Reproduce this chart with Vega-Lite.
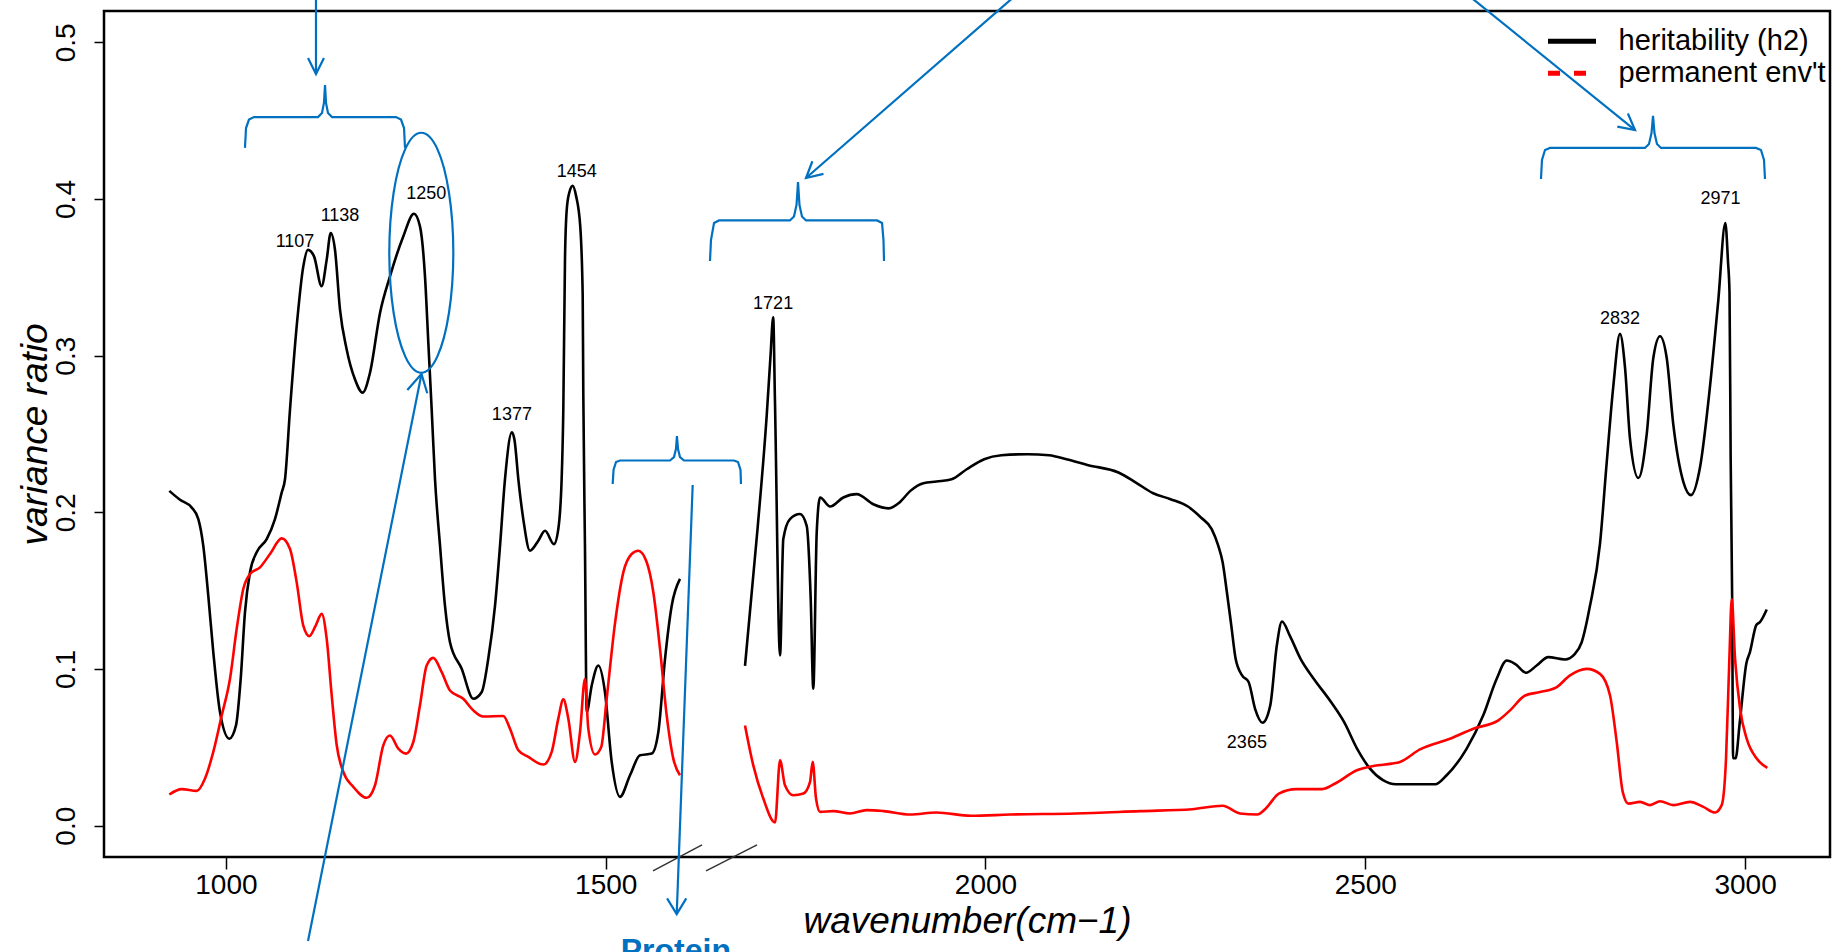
{
  "$schema": "https://vega.github.io/schema/vega-lite/v6.json",
  "width": 1726,
  "height": 846,
  "autosize": {"type": "none"},
  "padding": {"left": 104, "top": 11, "right": 15, "bottom": 95},
  "background": "white",
  "config": {
    "font": "Liberation Sans",
    "view": {"stroke": "#000", "strokeWidth": 2.5}
  },
  "datasets": {
    "h2": [
      {"seg":1,"wn":925.5,"v":0.2137},{"seg":1,"wn":939.6,"v":0.208},{"seg":1,"wn":955,"v":0.203},{"seg":1,"wn":963.7,"v":0.1957},{"seg":1,"wn":970.2,"v":0.1787},{"seg":1,"wn":976.8,"v":0.1468},{"seg":1,"wn":983.4,"v":0.1108},{"seg":1,"wn":992.2,"v":0.0725},{"seg":1,"wn":1004.5,"v":0.0555},{"seg":1,"wn":1013.3,"v":0.064},{"seg":1,"wn":1019.5,"v":0.0938},{"seg":1,"wn":1025.1,"v":0.1362},{"seg":1,"wn":1031.7,"v":0.1617},{"seg":1,"wn":1040.5,"v":0.1745},{"seg":1,"wn":1053.7,"v":0.1829},{"seg":1,"wn":1064.6,"v":0.1957},{"seg":1,"wn":1073.5,"v":0.2127},{"seg":1,"wn":1077.8,"v":0.2211},{"seg":1,"wn":1084.4,"v":0.2657},{"seg":1,"wn":1093.2,"v":0.3188},{"seg":1,"wn":1101.9,"v":0.357},{"seg":1,"wn":1108,"v":0.3675},{"seg":1,"wn":1116,"v":0.3634},{"seg":1,"wn":1126,"v":0.3443},{"seg":1,"wn":1132.7,"v":0.3613},{"seg":1,"wn":1138,"v":0.3783},{"seg":1,"wn":1143.6,"v":0.3676},{"seg":1,"wn":1150.2,"v":0.3294},{"seg":1,"wn":1159,"v":0.304},{"seg":1,"wn":1170,"v":0.2848},{"seg":1,"wn":1180,"v":0.2764},{"seg":1,"wn":1189.7,"v":0.2891},{"seg":1,"wn":1202.9,"v":0.3273},{"seg":1,"wn":1216,"v":0.3506},{"seg":1,"wn":1233.5,"v":0.3761},{"seg":1,"wn":1247.6,"v":0.3906},{"seg":1,"wn":1255.5,"v":0.3825},{"seg":1,"wn":1262.1,"v":0.3506},{"seg":1,"wn":1266.5,"v":0.3082},{"seg":1,"wn":1270.9,"v":0.2657},{"seg":1,"wn":1275.3,"v":0.2211},{"seg":1,"wn":1281.9,"v":0.1787},{"seg":1,"wn":1288.4,"v":0.1404},{"seg":1,"wn":1295,"v":0.1171},{"seg":1,"wn":1310.4,"v":0.1001},{"seg":1,"wn":1325.7,"v":0.081},{"seg":1,"wn":1336.8,"v":0.0853},{"seg":1,"wn":1345.4,"v":0.1065},{"seg":1,"wn":1354.3,"v":0.1404},{"seg":1,"wn":1360.9,"v":0.1787},{"seg":1,"wn":1367.4,"v":0.2211},{"seg":1,"wn":1376.5,"v":0.2511},{"seg":1,"wn":1380,"v":0.246},{"seg":1,"wn":1385,"v":0.2211},{"seg":1,"wn":1391.5,"v":0.1957},{"seg":1,"wn":1400.3,"v":0.1755},{"seg":1,"wn":1411.3,"v":0.1819},{"seg":1,"wn":1420.1,"v":0.1882},{"seg":1,"wn":1431.9,"v":0.1797},{"seg":1,"wn":1437.6,"v":0.1893},{"seg":1,"wn":1442,"v":0.2211},{"seg":1,"wn":1444.2,"v":0.2657},{"seg":1,"wn":1446.4,"v":0.3613},{"seg":1,"wn":1448.6,"v":0.3925},{"seg":1,"wn":1452,"v":0.404},{"seg":1,"wn":1456.6,"v":0.4084},{"seg":1,"wn":1461,"v":0.402},{"seg":1,"wn":1466.5,"v":0.3825},{"seg":1,"wn":1469.7,"v":0.339},{"seg":1,"wn":1470.5,"v":0.2764},{"seg":1,"wn":1472.7,"v":0.1787},{"seg":1,"wn":1475,"v":0.0725},{"seg":1,"wn":1481.6,"v":0.0895},{"seg":1,"wn":1490.3,"v":0.1022},{"seg":1,"wn":1499,"v":0.0853},{"seg":1,"wn":1507.9,"v":0.0407},{"seg":1,"wn":1518.8,"v":0.0184},{"seg":1,"wn":1532,"v":0.0322},{"seg":1,"wn":1545.2,"v":0.0449},{"seg":1,"wn":1560.6,"v":0.046},{"seg":1,"wn":1569.3,"v":0.0598},{"seg":1,"wn":1578.1,"v":0.1065},{"seg":1,"wn":1586.9,"v":0.1404},{"seg":1,"wn":1597.8,"v":0.1575},
      {"seg":2,"wn":1683.4,"v":0.102},{"seg":2,"wn":1700,"v":0.19},{"seg":2,"wn":1712,"v":0.262},{"seg":2,"wn":1717,"v":0.3},{"seg":2,"wn":1720.5,"v":0.3245},{"seg":2,"wn":1722.8,"v":0.272},{"seg":2,"wn":1729.5,"v":0.1086},{"seg":2,"wn":1733.8,"v":0.183},{"seg":2,"wn":1742.6,"v":0.1957},{"seg":2,"wn":1755.8,"v":0.1989},{"seg":2,"wn":1764.6,"v":0.1914},{"seg":2,"wn":1769.9,"v":0.1447},{"seg":2,"wn":1773.3,"v":0.0874},{"seg":2,"wn":1777.8,"v":0.1872},{"seg":2,"wn":1782.2,"v":0.2095},{"seg":2,"wn":1795.4,"v":0.2037},{"seg":2,"wn":1812.8,"v":0.2095},{"seg":2,"wn":1830.4,"v":0.2116},{"seg":2,"wn":1852.3,"v":0.2052},{"seg":2,"wn":1872.5,"v":0.2025},{"seg":2,"wn":1886.8,"v":0.2063},{"seg":2,"wn":1901.1,"v":0.2137},{"seg":2,"wn":1918.2,"v":0.2186},{"seg":2,"wn":1935.4,"v":0.2197},{"seg":2,"wn":1955.4,"v":0.2211},{"seg":2,"wn":1975.3,"v":0.2275},{"seg":2,"wn":1998.2,"v":0.2339},{"seg":2,"wn":2021,"v":0.2364},{"seg":2,"wn":2055.2,"v":0.2371},{"seg":2,"wn":2083.7,"v":0.2364},{"seg":2,"wn":2106.6,"v":0.2339},{"seg":2,"wn":2135.2,"v":0.2301},{"seg":2,"wn":2175.1,"v":0.2254},{"seg":2,"wn":2198,"v":0.219},{"seg":2,"wn":2220.8,"v":0.2122},{"seg":2,"wn":2243.6,"v":0.2084},{"seg":2,"wn":2266.5,"v":0.2037},{"seg":2,"wn":2283.6,"v":0.1967},{"seg":2,"wn":2297.8,"v":0.1893},{"seg":2,"wn":2306.4,"v":0.1787},{"seg":2,"wn":2312.2,"v":0.1681},{"seg":2,"wn":2317.8,"v":0.149},{"seg":2,"wn":2323.6,"v":0.1277},{"seg":2,"wn":2329.3,"v":0.1065},{"seg":2,"wn":2337.8,"v":0.0959},{"seg":2,"wn":2346.4,"v":0.0917},{"seg":2,"wn":2354.9,"v":0.0746},{"seg":2,"wn":2364.7,"v":0.0657},{"seg":2,"wn":2374.9,"v":0.0768},{"seg":2,"wn":2383.5,"v":0.115},{"seg":2,"wn":2390.3,"v":0.1303},{"seg":2,"wn":2400.6,"v":0.1213},{"seg":2,"wn":2414.8,"v":0.1065},{"seg":2,"wn":2432.1,"v":0.0938},{"seg":2,"wn":2454.9,"v":0.0789},{"seg":2,"wn":2472,"v":0.0662},{"seg":2,"wn":2489.1,"v":0.0492},{"seg":2,"wn":2506.2,"v":0.0364},{"seg":2,"wn":2523.3,"v":0.029},{"seg":2,"wn":2540.4,"v":0.0264},{"seg":2,"wn":2591.9,"v":0.0264},{"seg":2,"wn":2607.1,"v":0.0322},{"seg":2,"wn":2633.5,"v":0.0492},{"seg":2,"wn":2655.3,"v":0.0704},{"seg":2,"wn":2673,"v":0.0938},{"seg":2,"wn":2686.2,"v":0.1054},{"seg":2,"wn":2697.1,"v":0.1033},{"seg":2,"wn":2711.6,"v":0.0976},{"seg":2,"wn":2725.6,"v":0.1022},{"seg":2,"wn":2740.9,"v":0.1076},{"seg":2,"wn":2762.9,"v":0.1061},{"seg":2,"wn":2776,"v":0.1097},{"seg":2,"wn":2784.9,"v":0.1171},{"seg":2,"wn":2795.8,"v":0.1403},{"seg":2,"wn":2809,"v":0.18},{"seg":2,"wn":2817.8,"v":0.2317},{"seg":2,"wn":2826.5,"v":0.2804},{"seg":2,"wn":2835.3,"v":0.3139},{"seg":2,"wn":2841.9,"v":0.2926},{"seg":2,"wn":2848.5,"v":0.2469},{"seg":2,"wn":2859.5,"v":0.2219},{"seg":2,"wn":2870.5,"v":0.2499},{"seg":2,"wn":2879.2,"v":0.2986},{"seg":2,"wn":2888,"v":0.3124},{"seg":2,"wn":2896.8,"v":0.2986},{"seg":2,"wn":2905.5,"v":0.256},{"seg":2,"wn":2918.7,"v":0.2195},{"seg":2,"wn":2928.8,"v":0.211},{"seg":2,"wn":2940.6,"v":0.2286},{"seg":2,"wn":2953.8,"v":0.2804},{"seg":2,"wn":2964.7,"v":0.3352},{"seg":2,"wn":2974,"v":0.3846},{"seg":2,"wn":2977.5,"v":0.36},{"seg":2,"wn":2979.5,"v":0.34},{"seg":2,"wn":2981,"v":0.235},{"seg":2,"wn":2983,"v":0.143},{"seg":2,"wn":2984.2,"v":0.043},{"seg":2,"wn":2987.5,"v":0.043},{"seg":2,"wn":2993,"v":0.066},{"seg":2,"wn":3001.7,"v":0.1037},{"seg":2,"wn":3006.4,"v":0.1108},{"seg":2,"wn":3014.8,"v":0.1281},{"seg":2,"wn":3019.5,"v":0.1299},{"seg":2,"wn":3028.5,"v":0.138}
    ],
    "pe": [
      {"seg":1,"wn":925.5,"v":0.0199},{"seg":1,"wn":941.8,"v":0.0233},{"seg":1,"wn":961.6,"v":0.0222},{"seg":1,"wn":972.5,"v":0.0301},{"seg":1,"wn":983.4,"v":0.0471},{"seg":1,"wn":994.5,"v":0.0704},{"seg":1,"wn":1005.4,"v":0.0938},{"seg":1,"wn":1014.2,"v":0.1256},{"seg":1,"wn":1022.9,"v":0.1511},{"seg":1,"wn":1031.7,"v":0.1606},{"seg":1,"wn":1044.9,"v":0.1649},{"seg":1,"wn":1058.1,"v":0.1734},{"seg":1,"wn":1073.5,"v":0.1834},{"seg":1,"wn":1084.4,"v":0.1766},{"seg":1,"wn":1093.2,"v":0.1553},{"seg":1,"wn":1101.9,"v":0.1277},{"seg":1,"wn":1109.8,"v":0.121},{"seg":1,"wn":1118.2,"v":0.1277},{"seg":1,"wn":1126.1,"v":0.1352},{"seg":1,"wn":1132.7,"v":0.1192},{"seg":1,"wn":1139.3,"v":0.0831},{"seg":1,"wn":1145.9,"v":0.0513},{"seg":1,"wn":1154.6,"v":0.0343},{"seg":1,"wn":1167.7,"v":0.0248},{"seg":1,"wn":1185.4,"v":0.0178},{"seg":1,"wn":1196.3,"v":0.0258},{"seg":1,"wn":1207.2,"v":0.0513},{"seg":1,"wn":1216,"v":0.0576},{"seg":1,"wn":1227,"v":0.0492},{"seg":1,"wn":1237.1,"v":0.046},{"seg":1,"wn":1246.7,"v":0.0534},{"seg":1,"wn":1255.5,"v":0.0768},{"seg":1,"wn":1264.3,"v":0.1022},{"seg":1,"wn":1273,"v":0.1071},{"seg":1,"wn":1284.1,"v":0.098},{"seg":1,"wn":1295,"v":0.0863},{"seg":1,"wn":1312.5,"v":0.081},{"seg":1,"wn":1325.7,"v":0.0736},{"seg":1,"wn":1338.9,"v":0.0697},{"seg":1,"wn":1365.2,"v":0.07},{"seg":1,"wn":1374,"v":0.0619},{"seg":1,"wn":1385,"v":0.0481},{"seg":1,"wn":1398.1,"v":0.0439},{"seg":1,"wn":1417.9,"v":0.039},{"seg":1,"wn":1428.9,"v":0.0471},{"seg":1,"wn":1437.6,"v":0.0683},{"seg":1,"wn":1444.2,"v":0.0806},{"seg":1,"wn":1450.8,"v":0.0683},{"seg":1,"wn":1459.6,"v":0.0407},{"seg":1,"wn":1466.2,"v":0.0598},{"seg":1,"wn":1472.7,"v":0.0938},{"seg":1,"wn":1477.1,"v":0.0619},{"seg":1,"wn":1485.9,"v":0.0454},{"seg":1,"wn":1494,"v":0.05},{"seg":1,"wn":1501.3,"v":0.081},{"seg":1,"wn":1512.2,"v":0.129},{"seg":1,"wn":1523.2,"v":0.1617},{"seg":1,"wn":1534.2,"v":0.1734},{"seg":1,"wn":1542.9,"v":0.1755},{"seg":1,"wn":1554,"v":0.1681},{"seg":1,"wn":1562.7,"v":0.149},{"seg":1,"wn":1571.5,"v":0.1129},{"seg":1,"wn":1580.3,"v":0.0704},{"seg":1,"wn":1589,"v":0.0428},{"seg":1,"wn":1597.8,"v":0.0322},
      {"seg":2,"wn":1683.4,"v":0.064},{"seg":2,"wn":1694.3,"v":0.0385},{"seg":2,"wn":1707.5,"v":0.0173},{"seg":2,"wn":1722.9,"v":0.002},{"seg":2,"wn":1729.5,"v":0.0417},{"seg":2,"wn":1736,"v":0.0258},{"seg":2,"wn":1747,"v":0.0194},{"seg":2,"wn":1760.2,"v":0.0205},{"seg":2,"wn":1769,"v":0.028},{"seg":2,"wn":1772.5,"v":0.0407},{"seg":2,"wn":1776.9,"v":0.0173},{"seg":2,"wn":1782.2,"v":0.0088},{"seg":2,"wn":1799.6,"v":0.0093},{"seg":2,"wn":1821.6,"v":0.0078},{"seg":2,"wn":1843.6,"v":0.0099},{"seg":2,"wn":1865.5,"v":0.0093},{"seg":2,"wn":1901.1,"v":0.0071},{"seg":2,"wn":1935.4,"v":0.0084},{"seg":2,"wn":1981,"v":0.0063},{"seg":2,"wn":2032.4,"v":0.0071},{"seg":2,"wn":2118,"v":0.0078},{"seg":2,"wn":2203.6,"v":0.0093},{"seg":2,"wn":2272.1,"v":0.0105},{"seg":2,"wn":2312.2,"v":0.0127},{"seg":2,"wn":2335,"v":0.0078},{"seg":2,"wn":2357.8,"v":0.0071},{"seg":2,"wn":2369.1,"v":0.011},{"seg":2,"wn":2386.2,"v":0.0205},{"seg":2,"wn":2409.1,"v":0.0233},{"seg":2,"wn":2443.3,"v":0.0233},{"seg":2,"wn":2460.4,"v":0.0269},{"seg":2,"wn":2489,"v":0.0354},{"seg":2,"wn":2511.9,"v":0.0382},{"seg":2,"wn":2534.8,"v":0.0396},{"seg":2,"wn":2545.7,"v":0.0407},{"seg":2,"wn":2572,"v":0.0487},{"seg":2,"wn":2611.5,"v":0.0555},{"seg":2,"wn":2642.3,"v":0.0619},{"seg":2,"wn":2675.2,"v":0.0672},{"seg":2,"wn":2690.6,"v":0.0736},{"seg":2,"wn":2710.4,"v":0.0831},{"seg":2,"wn":2730.1,"v":0.0853},{"seg":2,"wn":2752.1,"v":0.0885},{"seg":2,"wn":2769.5,"v":0.0959},{"seg":2,"wn":2791.6,"v":0.1001},{"seg":2,"wn":2809,"v":0.0969},{"seg":2,"wn":2822.2,"v":0.0831},{"seg":2,"wn":2831,"v":0.0534},{"seg":2,"wn":2838.9,"v":0.0216},{"seg":2,"wn":2846.4,"v":0.0141},{"seg":2,"wn":2861.7,"v":0.0152},{"seg":2,"wn":2874.9,"v":0.0131},{"seg":2,"wn":2888,"v":0.0156},{"seg":2,"wn":2905.5,"v":0.0131},{"seg":2,"wn":2927.5,"v":0.0152},{"seg":2,"wn":2945,"v":0.012},{"seg":2,"wn":2960.4,"v":0.0084},{"seg":2,"wn":2969.2,"v":0.0131},{"seg":2,"wn":2974.9,"v":0.0428},{"seg":2,"wn":2979.3,"v":0.1065},{"seg":2,"wn":2982.4,"v":0.1447},{"seg":2,"wn":2986.8,"v":0.1065},{"seg":2,"wn":2993.4,"v":0.0746},{"seg":2,"wn":3002.1,"v":0.0555},{"seg":2,"wn":3015.3,"v":0.0428},{"seg":2,"wn":3029.3,"v":0.0369}
    ],
    "peaks": [
      {"label":"1107","wn":1091,"v":0.3727},{"label":"1138","wn":1150.2,"v":0.3891},{"label":"1250","wn":1263.8,"v":0.403},{"label":"1377","wn":1376.5,"v":0.2619},{"label":"1454","wn":1461.8,"v":0.4174},{"label":"1721","wn":1720.4,"v":0.3332},{"label":"2365","wn":2344.1,"v":0.0526},{"label":"2832","wn":2835.3,"v":0.3233},{"label":"2971","wn":2967.6,"v":0.3997}
    ],
    "breaks": [
      {"wn":1562.3,"v":-0.0289,"wn2":1626.8,"v2":-0.0123},{"wn":1632.1,"v":-0.0289,"wn2":1699.2,"v2":-0.0123}
    ],
    "anno": [
      {"id":"a1","o":1,"wn":1118.6,"v":0.5302},{"id":"a1","o":2,"wn":1118.6,"v":0.4798},
      {"id":"a1h","o":1,"wn":1108.1,"v":0.49},{"id":"a1h","o":2,"wn":1118.6,"v":0.4798},{"id":"a1h","o":3,"wn":1129.1,"v":0.49},
      {"id":"b1","o":1,"wn":1025.1,"v":0.4326},{"id":"b1","o":2,"wn":1026.5,"v":0.4453},{"id":"b1","o":3,"wn":1030.4,"v":0.4507},{"id":"b1","o":4,"wn":1037.0,"v":0.4523},{"id":"b1","o":5,"wn":1121.3,"v":0.4523},{"id":"b1","o":6,"wn":1126.5,"v":0.4549},{"id":"b1","o":7,"wn":1129.1,"v":0.4613},{"id":"b1","o":8,"wn":1130.5,"v":0.4728},{"id":"b1","o":9,"wn":1131.8,"v":0.4613},{"id":"b1","o":10,"wn":1134.4,"v":0.4549},{"id":"b1","o":11,"wn":1139.7,"v":0.4523},{"id":"b1","o":12,"wn":1223.9,"v":0.4523},{"id":"b1","o":13,"wn":1230.5,"v":0.4507},{"id":"b1","o":14,"wn":1234.5,"v":0.4453},{"id":"b1","o":15,"wn":1235.8,"v":0.4326},
      {"id":"c","o":1,"wn":1108.1,"v":-0.0736},{"id":"c","o":2,"wn":1257.5,"v":0.2883},
      {"id":"ch","o":1,"wn":1238.8,"v":0.2781},{"id":"ch","o":2,"wn":1257.5,"v":0.2883},{"id":"ch","o":3,"wn":1265.1,"v":0.276},
      {"id":"d","o":1,"wn":2040.2,"v":0.5302},{"id":"d","o":2,"wn":1763.7,"v":0.4134},
      {"id":"dh","o":1,"wn":1786.7,"v":0.416},{"id":"dh","o":2,"wn":1763.7,"v":0.4134},{"id":"dh","o":3,"wn":1772.1,"v":0.4241},
      {"id":"b2","o":1,"wn":1637.3,"v":0.3604},{"id":"b2","o":2,"wn":1638.6,"v":0.3738},{"id":"b2","o":3,"wn":1642.6,"v":0.3847},{"id":"b2","o":4,"wn":1649.2,"v":0.3863},{"id":"b2","o":5,"wn":1742.6,"v":0.3863},{"id":"b2","o":6,"wn":1747.9,"v":0.3888},{"id":"b2","o":7,"wn":1751.2,"v":0.3962},{"id":"b2","o":8,"wn":1753.2,"v":0.4108},{"id":"b2","o":9,"wn":1755.1,"v":0.3962},{"id":"b2","o":10,"wn":1758.4,"v":0.3888},{"id":"b2","o":11,"wn":1763.7,"v":0.3863},{"id":"b2","o":12,"wn":1857.2,"v":0.3863},{"id":"b2","o":13,"wn":1863.8,"v":0.3847},{"id":"b2","o":14,"wn":1865.7,"v":0.3738},{"id":"b2","o":15,"wn":1866.4,"v":0.3604},
      {"id":"b3","o":1,"wn":1509.2,"v":0.2181},{"id":"b3","o":2,"wn":1510.3,"v":0.227},{"id":"b3","o":3,"wn":1513.6,"v":0.2321},{"id":"b3","o":4,"wn":1518.8,"v":0.2331},{"id":"b3","o":5,"wn":1584.6,"v":0.2331},{"id":"b3","o":6,"wn":1589.9,"v":0.2353},{"id":"b3","o":7,"wn":1592.5,"v":0.2404},{"id":"b3","o":8,"wn":1593.8,"v":0.2487},{"id":"b3","o":9,"wn":1595.2,"v":0.2404},{"id":"b3","o":10,"wn":1597.8,"v":0.2353},{"id":"b3","o":11,"wn":1603.1,"v":0.2331},{"id":"b3","o":12,"wn":1668.9,"v":0.2331},{"id":"b3","o":13,"wn":1674.2,"v":0.2321},{"id":"b3","o":14,"wn":1677.5,"v":0.227},{"id":"b3","o":15,"wn":1678.1,"v":0.2181},
      {"id":"f","o":1,"wn":1614.5,"v":0.2174},{"id":"f","o":2,"wn":1593.5,"v":-0.0564},
      {"id":"fh","o":1,"wn":1580.8,"v":-0.0464},{"id":"fh","o":2,"wn":1593.5,"v":-0.0564},{"id":"fh","o":3,"wn":1606.1,"v":-0.0464},
      {"id":"g","o":1,"wn":2635.2,"v":0.5302},{"id":"g","o":2,"wn":2855.1,"v":0.444},
      {"id":"gh","o":1,"wn":2845.7,"v":0.4546},{"id":"gh","o":2,"wn":2855.1,"v":0.444},{"id":"gh","o":3,"wn":2831.8,"v":0.4462},
      {"id":"b4","o":1,"wn":2731.3,"v":0.4128},{"id":"b4","o":2,"wn":2732.6,"v":0.4249},{"id":"b4","o":3,"wn":2736.6,"v":0.4313},{"id":"b4","o":4,"wn":2743.2,"v":0.4326},{"id":"b4","o":5,"wn":2868.2,"v":0.4326},{"id":"b4","o":6,"wn":2873.5,"v":0.4351},{"id":"b4","o":7,"wn":2876.8,"v":0.4421},{"id":"b4","o":8,"wn":2878.8,"v":0.453},{"id":"b4","o":9,"wn":2880.7,"v":0.4421},{"id":"b4","o":10,"wn":2884.0,"v":0.4351},{"id":"b4","o":11,"wn":2889.3,"v":0.4326},{"id":"b4","o":12,"wn":3014.3,"v":0.4326},{"id":"b4","o":13,"wn":3020.9,"v":0.4313},{"id":"b4","o":14,"wn":3024.9,"v":0.4249},{"id":"b4","o":15,"wn":3026.2,"v":0.4128}
    ],
    "ellipse": [
      {"o":1,"wn":1299.4,"v":0.3657},{"o":2,"wn":1293.7,"v":0.404},{"o":3,"wn":1278.3,"v":0.432},{"o":4,"wn":1257.2,"v":0.4423},{"o":5,"wn":1236.2,"v":0.432},{"o":6,"wn":1220.8,"v":0.404},{"o":7,"wn":1215.1,"v":0.3657},{"o":8,"wn":1220.8,"v":0.3274},{"o":9,"wn":1236.2,"v":0.2994},{"o":10,"wn":1257.2,"v":0.2891},{"o":11,"wn":1278.3,"v":0.2994},{"o":12,"wn":1293.7,"v":0.3274}
    ],
    "protein": [
      {"t":"Protein","wn":1592.4,"v":-0.0864}
    ]
  },
  "encoding": {
    "x": {
      "field": "wn", "type": "quantitative",
      "scale": {"domain": [839.52, 3111.78], "nice": false, "zero": false},
      "axis": {
        "values": [1000, 1500, 2000, 2500, 3000], "format": "d", "grid": false, "domain": false,
        "tickSize": 12, "tickWidth": 1.5, "tickColor": "#000",
        "labelFontSize": 28, "labelColor": "#000", "labelPadding": 2, "labelBaseline": "top", "labelFlush": false, "labelOverlap": false,
        "title": "wavenumber(cm−1)", "titleFontSize": 37, "titleFontStyle": "italic", "titleFontWeight": "normal", "titleColor": "#000",
        "titleX": 863, "titleY": 75, "titleBaseline": "alphabetic", "titleAlign": "center"
      }
    },
    "y": {
      "field": "v", "type": "quantitative",
      "scale": {"domain": [-0.02, 0.52], "nice": false, "zero": false},
      "axis": {
        "values": [0, 0.1, 0.2, 0.3, 0.4, 0.5], "format": ".1f", "grid": false, "domain": false,
        "tickSize": 10, "tickWidth": 1.5, "tickColor": "#000",
        "labelFontSize": 28, "labelColor": "#000", "labelAngle": 270, "labelAlign": "center", "labelBaseline": "bottom", "labelPadding": 14, "labelFlush": false, "labelOverlap": false,
        "title": "variance ratio", "titleFontSize": 37, "titleFontStyle": "italic", "titleFontWeight": "normal", "titleColor": "#000",
        "titleAngle": 270, "titleX": -58, "titleY": 423, "titleBaseline": "alphabetic", "titleAlign": "center"
      }
    }
  },
  "layer": [
    {
      "data": {"name": "h2"},
      "mark": {"type": "line", "interpolate": "monotone", "strokeWidth": 2.6},
      "encoding": {
        "detail": {"field": "seg", "type": "nominal"},
        "color": {
          "datum": "heritability (h2)", "type": "nominal",
          "scale": {"domain": ["heritability (h2)", "permanent env't"], "range": ["#000000", "#ff0000"]},
          "legend": {
            "orient": "none", "legendX": 1441.5, "legendY": 14.2, "title": null,
            "symbolType": "stroke", "symbolSize": 900, "symbolStrokeWidth": 5, "symbolOffset": 0,
            "labelOffset": 20, "labelFontSize": 29, "labelColor": "#000", "labelLimit": 0, "padding": 0, "rowPadding": 0, "clipHeight": 32,
            "encode": {"symbols": {"update": {"size": {"value": 2304}, "strokeDash": {"signal": "datum.value === \"permanent env't\" ? [12, 14] : [1, 0]"}}}}
          }
        }
      }
    },
    {
      "data": {"name": "pe"},
      "mark": {"type": "line", "interpolate": "monotone", "strokeWidth": 2.6},
      "encoding": {
        "detail": {"field": "seg", "type": "nominal"},
        "color": {"datum": "permanent env't", "type": "nominal"}
      }
    },
    {
      "data": {"name": "peaks"},
      "mark": {"type": "text", "fontSize": 18, "color": "#000", "baseline": "middle", "align": "center"},
      "encoding": {"text": {"field": "label", "type": "nominal"}}
    },
    {
      "data": {"name": "breaks"},
      "mark": {"type": "rule", "color": "#333", "strokeWidth": 1.5},
      "encoding": {"x2": {"field": "wn2"}, "y2": {"field": "v2"}}
    },
    {
      "data": {"name": "anno"},
      "mark": {"type": "line", "color": "#0070C0", "strokeWidth": 2.2},
      "encoding": {"detail": {"field": "id", "type": "nominal"}, "order": {"field": "o", "type": "quantitative"}}
    },
    {
      "data": {"name": "ellipse"},
      "mark": {"type": "line", "interpolate": "cardinal-closed", "color": "#0070C0", "strokeWidth": 2.2},
      "encoding": {"order": {"field": "o", "type": "quantitative"}}
    },
    {
      "data": {"name": "protein"},
      "mark": {"type": "text", "fontSize": 32, "fontWeight": "bold", "color": "#0070C0", "baseline": "alphabetic", "align": "center"},
      "encoding": {"text": {"field": "t", "type": "nominal"}}
    }
  ]
}
